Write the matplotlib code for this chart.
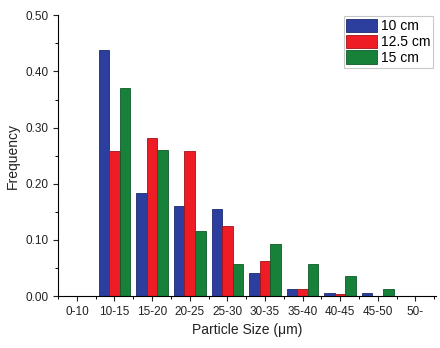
import matplotlib.pyplot as plt
import numpy as np
from matplotlib.ticker import MultipleLocator

plt.rcParams['font.family'] = ['Liberation Sans', 'DejaVu Sans']

# data
categories = ['0-10', '10-15', '15-20', '20-25', '25-30', '30-35',
              '35-40', '40-45', '45-50', '50-']
freq_10 = [0.0, 0.438, 0.184, 0.160, 0.155, 0.042, 0.012, 0.006, 0.006, 0.0]
freq_125 = [0.0, 0.258, 0.282, 0.258, 0.125, 0.063, 0.012, 0.003, 0.0, 0.0]
freq_15 = [0.0, 0.370, 0.260, 0.116, 0.058, 0.093, 0.058, 0.035, 0.012, 0.0]
series_labels = ['10 cm', '12.5 cm', '15 cm']
colors = ['#2c3f9e', '#ee1c25', '#17813a']
edges = ['#1c2a70', '#a01218', '#0f5a28']

fig = plt.figure(figsize=(4.4, 3.48), dpi=100)
ax = fig.add_axes([0.132, 0.149, 0.859, 0.807])

x = np.arange(len(categories))
w = 0.28
for i, (vals, lab) in enumerate(zip([freq_10, freq_125, freq_15], series_labels)):
    ax.bar(x + (i - 1) * w, vals, width=w, color=colors[i],
           edgecolor=edges[i], linewidth=0.6, label=lab)

ax.set_xlim(-0.5, 9.55)
ax.set_ylim(0, 0.5)
ax.set_xticks(x)
ax.set_xticklabels(categories)
ax.xaxis.set_minor_locator(MultipleLocator(0.5))
ax.yaxis.set_major_locator(MultipleLocator(0.1))
ax.yaxis.set_minor_locator(MultipleLocator(0.05))
ax.yaxis.set_major_formatter(plt.FuncFormatter(lambda v, p: f'{v:.2f}'))

for s in ['top', 'right']:
    ax.spines[s].set_visible(False)
ax.spines['left'].set_linewidth(0.8)
ax.spines['bottom'].set_linewidth(0.8)
ax.tick_params(axis='both', which='major', direction='out', length=3.5,
               width=0.8, labelsize=8.5, colors='#222222')
ax.tick_params(axis='both', which='minor', direction='out', length=2,
               width=0.7)

ax.set_xlabel('Particle Size (μm)', fontsize=10, color='#222222')
ax.set_ylabel('Frequency', fontsize=10, color='#222222')

leg = ax.legend(loc='upper right', bbox_to_anchor=(0.995, 1.0), fontsize=10,
                frameon=True, fancybox=False, handlelength=2.2,
                handleheight=1.1, handletextpad=0.3, borderpad=0.2,
                labelspacing=0.1, borderaxespad=0.05)
leg.get_frame().set_edgecolor('#bbbbbb')
leg.get_frame().set_linewidth(0.8)

fig.savefig('out.png', dpi=100, facecolor='white')
